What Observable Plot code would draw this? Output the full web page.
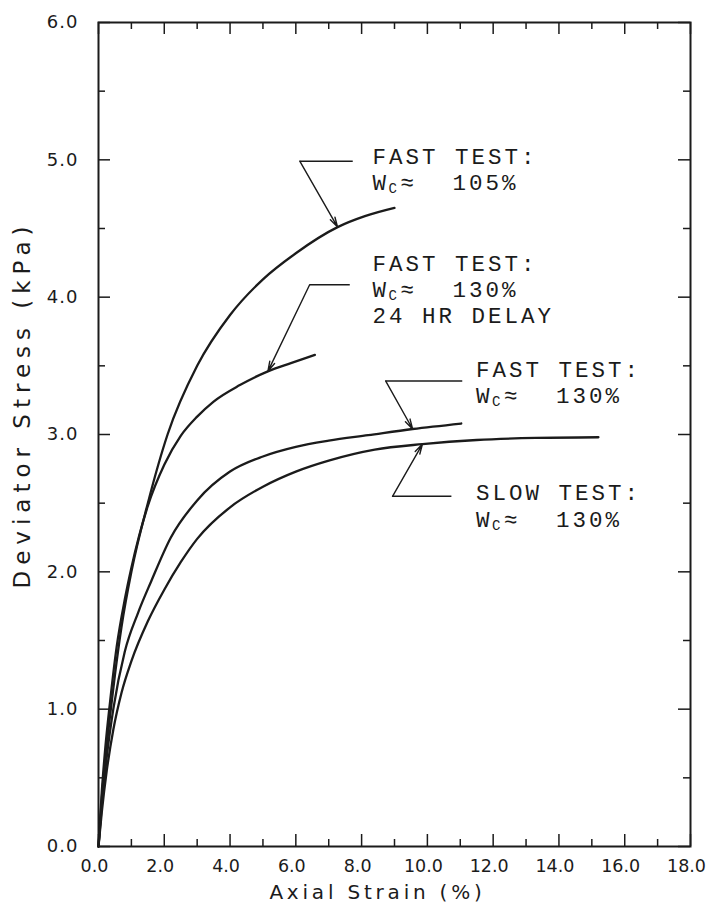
<!DOCTYPE html>
<html>
<head>
<meta charset="utf-8">
<script src="https://cdn.jsdelivr.net/npm/d3@7"></script>
<script src="https://cdn.jsdelivr.net/npm/@observablehq/plot@0.6"></script>
<style>
  html, body { margin: 0; padding: 0; background: #fff; }
  #chart svg { display: block; }
  .sp1 text { letter-spacing: 1px; }
  .spx text { letter-spacing: 3.8px; }
  .spy text { letter-spacing: 6px; }
  .note text { letter-spacing: 3px; }
</style>
</head>
<body>
<div id="chart"></div>
<script>
// ---- data: [axial strain %, deviator stress kPa] ----
const fast105 = [[0,0],[0.1,0.35],[0.2,0.62],[0.35,0.95],[0.5,1.25],[0.7,1.6],[1.0,2.0],[1.5,2.5],[2.1,3.0],[3.0,3.5],[4.0,3.87],[5.0,4.13],[6.0,4.32],[7.27,4.51],[8.1,4.59],[9.0,4.65]];
const fast130Delay = [[0,0],[0.1,0.4],[0.2,0.7],[0.35,1.05],[0.55,1.45],[0.8,1.8],[1.0,2.03],[1.5,2.48],[2.0,2.78],[2.5,2.99],[3.0,3.13],[3.5,3.24],[4.3,3.36],[5.15,3.46],[5.85,3.52],[6.58,3.58]];
const fast130 = [[0,0],[0.1,0.3],[0.25,0.65],[0.45,1.0],[0.8,1.42],[1.2,1.7],[1.6,1.93],[2.2,2.25],[3.0,2.52],[4.0,2.73],[5.0,2.84],[6.0,2.91],[7.0,2.955],[8.2,2.995],[9.55,3.04],[11.03,3.08]];
const slow130 = [[0,0],[0.1,0.25],[0.25,0.55],[0.45,0.85],[0.7,1.12],[1.0,1.35],[1.5,1.64],[2.0,1.87],[2.5,2.07],[3.0,2.24],[4.0,2.47],[5.0,2.62],[6.0,2.73],[7.0,2.81],[8.4,2.89],[9.85,2.93],[11.5,2.96],[13.3,2.975],[15.2,2.98]];

const seriesNames = ["fast105", "fast130Delay", "fast130", "slow130"];
const seriesData = [fast105, fast130Delay, fast130, slow130];

const xMajorTicks = [0, 2, 4, 6, 8, 10, 12, 14, 16, 18];
const xMinorTicks = [1, 3, 5, 7, 9, 11, 13, 15, 17];
const yMajorTicks = [0, 1, 2, 3, 4, 5, 6];
const yMinorTicks = [0.5, 1.5, 2.5, 3.5, 4.5, 5.5];

const xTitle = "Axial Strain (%)";
const yTitle = "Deviator Stress (kPa)";

// annotation text (anchored in data space: left edge, baseline)
const noteHeads = [
  {x: 8.33, y: 4.97, text: "FAST TEST:"},
  {x: 8.33, y: 4.19, text: "FAST TEST:"},
  {x: 11.48, y: 3.42, text: "FAST TEST:"},
  {x: 11.48, y: 2.52, text: "SLOW TEST:"}
];
const noteWc = [
  {x: 8.33, y: 4.78, value: "105%"},
  {x: 8.33, y: 4.0, value: "130%"},
  {x: 11.48, y: 3.23, value: "130%"},
  {x: 11.48, y: 2.33, value: "130%"}
];
const noteExtra = [{x: 8.33, y: 3.81, text: "24 HR DELAY"}];

// leader lines: horizontal from (hx, cy) to corner (cx, cy), then arrow to tip (tx, ty)
const leaders = [
  {hx: 7.73, cx: 6.12, cy: 4.99, tx: 7.27, ty: 4.51},
  {hx: 7.64, cx: 6.42, cy: 4.09, tx: 5.15, ty: 3.46},
  {hx: 11.06, cx: 8.73, cy: 3.39, tx: 9.55, ty: 3.04},
  {hx: 10.73, cx: 8.94, cy: 2.55, tx: 9.85, ty: 2.93}
];

// ---- build table ----
const rows = seriesNames.flatMap((name, i) =>
  seriesData[i].map(([strain, stress]) => ({series: name, strain, stress})));

const W = 707, H = 911;
const mL = 98, mR = 17, mT = 22, mB = 65;
const innerH = H - mT - mB;
const innerW = W - mL - mR;
const ink = "#1b1b1b";
const sans = "DejaVu Sans";
const mono = "Liberation Mono";
const noteSize = 22.5;
const majorLen = 12, minorLen = 7;

const chart = Plot.plot({
  width: W,
  height: H,
  marginLeft: mL,
  marginRight: mR,
  marginTop: mT,
  marginBottom: mB,
  style: {background: "#fff", color: ink},
  x: {domain: [0, 18], axis: null},
  y: {domain: [0, 6], axis: null},
  marks: [
    // inward ticks
    Plot.ruleX(xMajorTicks, {x: d => d, insetTop: innerH - majorLen, stroke: ink, strokeWidth: 1.5}),
    Plot.ruleX(xMinorTicks, {x: d => d, insetTop: innerH - minorLen, stroke: ink, strokeWidth: 1.5}),
    Plot.ruleX(xMajorTicks, {x: d => d, insetBottom: innerH - majorLen, stroke: ink, strokeWidth: 1.5}),
    Plot.ruleX(xMinorTicks, {x: d => d, insetBottom: innerH - minorLen, stroke: ink, strokeWidth: 1.5}),
    Plot.ruleY(yMajorTicks, {y: d => d, insetRight: innerW - majorLen, stroke: ink, strokeWidth: 1.5}),
    Plot.ruleY(yMinorTicks, {y: d => d, insetRight: innerW - minorLen, stroke: ink, strokeWidth: 1.5}),
    Plot.ruleY(yMajorTicks, {y: d => d, insetLeft: innerW - majorLen, stroke: ink, strokeWidth: 1.5}),
    Plot.ruleY(yMinorTicks, {y: d => d, insetLeft: innerW - minorLen, stroke: ink, strokeWidth: 1.5}),
    Plot.frame({stroke: ink, strokeWidth: 2}),
    // tick labels
    Plot.text(xMajorTicks, {x: d => d, frameAnchor: "bottom", dx: -4, dy: 13, lineAnchor: "top",
      text: d => d.toFixed(1), fontFamily: sans, fontSize: 17.5, fill: ink}),
    Plot.text(yMajorTicks, {y: d => d, frameAnchor: "left", dx: -20, textAnchor: "end",
      text: d => d.toFixed(1), fontFamily: sans, fontSize: 18, fill: ink, className: "sp1"}),
    // axis titles
    Plot.text([xTitle], {frameAnchor: "bottom", dx: -17, dy: 52, lineAnchor: "bottom",
      text: d => d, fontFamily: sans, fontSize: 20, fill: ink, className: "spx"}),
    Plot.text([yTitle], {frameAnchor: "left", dx: -76, dy: -30, rotate: -90, textAnchor: "middle",
      text: d => d, fontFamily: sans, fontSize: 23, fill: ink, className: "spy"}),
    // curves
    Plot.line(rows, {x: "strain", y: "stress", z: "series", curve: "monotone-x",
      stroke: ink, strokeWidth: 2.3}),
    // leaders
    Plot.link(leaders, {x1: "hx", y1: "cy", x2: "cx", y2: "cy", stroke: ink, strokeWidth: 1.5}),
    Plot.arrow(leaders, {x1: "cx", y1: "cy", x2: "tx", y2: "ty", stroke: ink, strokeWidth: 1.4,
      headLength: 11, headAngle: 30}),
    // annotation text
    Plot.text(noteHeads, {x: "x", y: "y", text: "text", textAnchor: "start", lineAnchor: "bottom",
      fontFamily: mono, fontSize: noteSize, fill: ink, className: "note"}),
    Plot.text(noteExtra, {x: "x", y: "y", text: "text", textAnchor: "start", lineAnchor: "bottom",
      fontFamily: mono, fontSize: noteSize, fill: ink, className: "note"}),
    Plot.text(noteWc, {x: "x", y: "y", text: () => "W", textAnchor: "start", lineAnchor: "bottom",
      fontFamily: mono, fontSize: noteSize, fill: ink}),
    Plot.text(noteWc, {x: "x", y: "y", text: () => "C", dx: 16, dy: 3, textAnchor: "start", lineAnchor: "bottom",
      fontFamily: mono, fontSize: 14, fill: ink}),
    Plot.text(noteWc, {x: "x", y: "y", text: () => "≈", dx: 28, textAnchor: "start", lineAnchor: "bottom",
      fontFamily: mono, fontSize: noteSize, fill: ink}),
    Plot.text(noteWc, {x: "x", y: "y", text: "value", dx: 80, textAnchor: "start", lineAnchor: "bottom",
      fontFamily: mono, fontSize: noteSize, fill: ink, className: "note"})
  ]
});

document.getElementById("chart").appendChild(chart);
</script>
</body>
</html>
